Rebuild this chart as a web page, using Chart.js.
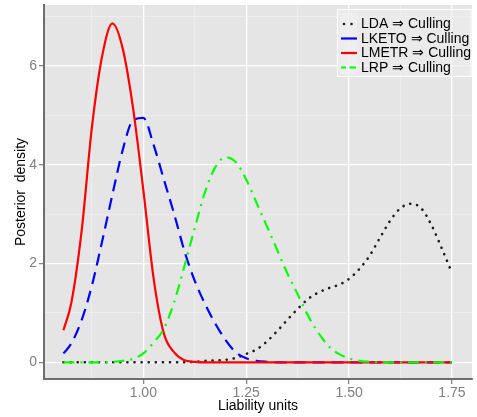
<!DOCTYPE html>
<html>
<head>
<meta charset="utf-8">
<script src="https://cdn.jsdelivr.net/npm/chart.js@4/dist/chart.umd.min.js"></script>
<style>
  html, body { margin: 0; padding: 0; background: #ffffff; }
  #wrap { width: 477px; height: 417px; }
</style>
</head>
<body>
<div id="wrap"><canvas id="c" width="477" height="417"></canvas></div>
<script>
// Liability grid shared by every posterior density curve
const xs = [0.806, 0.825, 0.85, 0.875, 0.90, 0.925, 0.95, 0.975, 1.00, 1.025,
            1.05, 1.075, 1.10, 1.125, 1.15, 1.175, 1.20, 1.225, 1.25, 1.275,
            1.30, 1.325, 1.35, 1.375, 1.40, 1.425, 1.45, 1.475, 1.50, 1.525,
            1.55, 1.575, 1.60, 1.625, 1.65, 1.675, 1.70, 1.725, 1.75];

// Posterior densities
const ldaDensity = [0, 0, 0, 0, 0, 0, 0, 0, 0, 0, 0, 0, 0,
                    0.01, 0.03, 0.04, 0.05, 0.09, 0.17, 0.26, 0.42, 0.63, 0.86, 1.08, 1.28,
                    1.41, 1.50, 1.57, 1.69, 1.89, 2.16, 2.52, 2.87, 3.12, 3.21, 3.12, 2.78,
                    2.31, 1.81];
const lketoDensity = [0.18, 0.38, 0.85, 1.55, 2.45, 3.40, 4.30, 4.90, 4.95, 4.40,
                      3.70, 3.00, 2.25, 1.65, 1.18, 0.78, 0.45, 0.20, 0.08, 0.03,
                      0.01, 0, 0, 0, 0, 0, 0, 0, 0, 0, 0, 0, 0, 0, 0, 0, 0, 0, 0];
const lmetrDensity = [0.65, 1.20, 2.65, 4.75, 6.20, 6.86, 6.35, 5.15, 3.49, 1.70,
                      0.58, 0.20, 0.04, 0.01, 0, 0, 0, 0, 0, 0, 0, 0, 0, 0, 0, 0,
                      0, 0, 0, 0, 0, 0, 0, 0, 0, 0, 0, 0, 0];
const lrpDensity = [0, 0, 0, 0, 0, 0.01, 0.03, 0.07, 0.18, 0.40, 0.68, 1.22, 1.95,
                    2.72, 3.45, 3.95, 4.15, 4.05, 3.70, 3.23, 2.76, 2.28, 1.80, 1.38,
                    0.95, 0.60, 0.33, 0.17, 0.08, 0.03, 0.01, 0, 0, 0, 0, 0, 0, 0, 0];

const seriesNames = ['LDA \u21D2 Culling', 'LKETO \u21D2 Culling', 'LMETR \u21D2 Culling', 'LRP \u21D2 Culling'];

// Axis ticks
const xMajorTicks = [1.00, 1.25, 1.50, 1.75];
const xTickLabels = ['1.00', '1.25', '1.50', '1.75'];
const xMinorTicks = [0.875, 1.125, 1.375, 1.625];
const yMajorTicks = [0, 2, 4, 6];
const yTickLabels = ['0', '2', '4', '6'];
const yMinorTicks = [1, 3, 5, 7];

const FONT = "'Liberation Sans', Arial, Helvetica, sans-serif";
const PANEL = '#e5e5e5';

function pts(ys) { return xs.map((x, i) => ({ x: x, y: ys[i] })); }
function isIn(list, v) { return list.some(t => Math.abs(t - v) < 1e-9); }

const styles = [
  { color: '#1a1a1a', width: 2.6, dash: [0.1, 7], cap: 'round', order: 3 },
  { color: '#0000ff', width: 2.2, dash: [12, 7], cap: 'butt', order: 2 },
  { color: '#ff0000', width: 2.2, dash: [], cap: 'butt', order: 1 },
  { color: '#00ff00', width: 2.2, dash: [11, 6, 2, 6], cap: 'butt', order: 0 }
];
const seriesData = [ldaDensity, lketoDensity, lmetrDensity, lrpDensity];

const datasets = seriesData.map((ys, i) => ({
  label: seriesNames[i],
  data: pts(ys),
  borderColor: styles[i].color,
  borderWidth: styles[i].width,
  borderDash: styles[i].dash,
  borderCapStyle: styles[i].cap,
  borderJoinStyle: 'round',
  pointRadius: 0,
  fill: false,
  cubicInterpolationMode: 'monotone',
  order: styles[i].order
}));

// Gray panel behind the grid
const panelBackground = {
  id: 'panelBackground',
  beforeDraw(chart) {
    const { ctx, chartArea: a } = chart;
    ctx.save();
    ctx.fillStyle = '#ffffff';
    ctx.fillRect(0, 0, chart.width, chart.height);
    ctx.fillStyle = PANEL;
    ctx.fillRect(a.left, a.top, a.right - a.left, a.bottom - a.top);
    ctx.restore();
  }
};

// Legend box in the upper right corner of the panel
const insetLegend = {
  id: 'insetLegend',
  afterDatasetsDraw(chart) {
    const { ctx, chartArea: a } = chart;
    const bx = 337, by = 9, bw = a.right - 337 - 0.5, bh = 68;
    ctx.save();
    ctx.fillStyle = 'rgba(236,236,236,0.6)';
    ctx.fillRect(bx, by, bw, bh);
    ctx.strokeStyle = '#ffffff';
    ctx.lineWidth = 1;
    ctx.strokeRect(bx + 0.5, by + 0.5, bw - 1, bh - 1);
    ctx.fillStyle = 'rgba(240,240,240,0.7)';
    ctx.fillRect(340, 13, 17, 61);
    const rows = [24, 38.5, 53, 67.5];
    ctx.font = '14px ' + FONT;
    ctx.textBaseline = 'middle';
    ctx.textAlign = 'left';
    rows.forEach((y, i) => {
      const s = styles[i];
      ctx.strokeStyle = s.color;
      ctx.fillStyle = s.color;
      if (i === 0) {
        [344, 351.5].forEach(x => { ctx.beginPath(); ctx.arc(x, y, 1.3, 0, Math.PI * 2); ctx.fill(); });
      } else if (i === 3) {
        ctx.lineWidth = 2.2;
        ctx.beginPath();
        ctx.moveTo(341, y); ctx.lineTo(346, y);
        ctx.moveTo(349.5, y); ctx.lineTo(356, y);
        ctx.stroke();
      } else {
        ctx.lineWidth = 2.2;
        ctx.beginPath();
        ctx.moveTo(341, y); ctx.lineTo(357, y);
        ctx.stroke();
      }
      ctx.fillStyle = '#000000';
      ctx.fillText(seriesNames[i], 361, y + 0.5);
    });
    ctx.restore();
  }
};

function noEdgePadding(s) {
  s.paddingTop = 0; s.paddingBottom = 0; s.paddingLeft = 0; s.paddingRight = 0;
}

new Chart(document.getElementById('c'), {
  type: 'line',
  data: { datasets: datasets },
  options: {
    responsive: false,
    animation: false,
    events: [],
    layout: { padding: { top: 5, right: 5, left: 0, bottom: 0 } },
    plugins: { legend: { display: false }, tooltip: { enabled: false } },
    scales: {
      x: {
        type: 'linear',
        min: 0.7587,
        max: 1.7986,
        afterFit(s) { s.height = 38; noEdgePadding(s); },
        afterBuildTicks(s) {
          s.ticks = xMajorTicks.concat(xMinorTicks).sort((p, q) => p - q).map(v => ({ value: v }));
        },
        ticks: {
          autoSkip: false,
          maxRotation: 0,
          padding: 1,
          color: '#7f7f7f',
          font: { family: FONT, size: 14 },
          callback(v) {
            const k = xMajorTicks.findIndex(t => Math.abs(t - v) < 1e-9);
            return k >= 0 ? xTickLabels[k] : '';
          }
        },
        grid: {
          color: c => (c.tick && isIn(xMinorTicks, c.tick.value)) ? '#f1f1f1' : '#ffffff',
          lineWidth: c => (c.tick && isIn(xMinorTicks, c.tick.value)) ? 0.7 : 1.3,
          tickColor: c => (c.tick && isIn(xMinorTicks, c.tick.value)) ? 'rgba(0,0,0,0)' : '#7f7f7f',
          tickLength: 5,
          tickWidth: 1.2
        },
        border: { display: true, color: '#6e6e6e', width: 2 },
        title: {
          display: true,
          text: 'Liability units',
          color: '#000000',
          font: { family: FONT, size: 14 },
          padding: { top: 0, bottom: 2 }
        }
      },
      y: {
        type: 'linear',
        min: -0.338,
        max: 7.233,
        afterFit(s) { s.width = 44; noEdgePadding(s); },
        afterBuildTicks(s) {
          s.ticks = yMajorTicks.concat(yMinorTicks).sort((p, q) => p - q).map(v => ({ value: v }));
        },
        ticks: {
          autoSkip: false,
          padding: 2,
          color: '#7f7f7f',
          font: { family: FONT, size: 14 },
          callback(v) {
            const k = yMajorTicks.findIndex(t => Math.abs(t - v) < 1e-9);
            return k >= 0 ? yTickLabels[k] : '';
          }
        },
        grid: {
          color: c => (c.tick && isIn(yMinorTicks, c.tick.value)) ? '#f1f1f1' : '#ffffff',
          lineWidth: c => (c.tick && isIn(yMinorTicks, c.tick.value)) ? 0.7 : 1.3,
          tickColor: c => (c.tick && isIn(yMinorTicks, c.tick.value)) ? 'rgba(0,0,0,0)' : '#7f7f7f',
          tickLength: 5,
          tickWidth: 1.2
        },
        border: { display: true, color: '#6e6e6e', width: 2 },
        title: {
          display: true,
          text: 'Posterior  density',
          color: '#000000',
          font: { family: FONT, size: 14 },
          padding: { top: 13, bottom: 0 }
        }
      }
    }
  },
  plugins: [panelBackground, insetLegend]
});
</script>
</body>
</html>
